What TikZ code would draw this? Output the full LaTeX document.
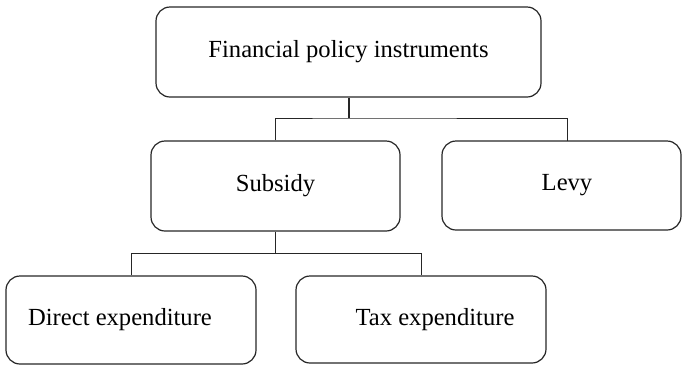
\documentclass[tikz,border=0pt]{standalone}
\usepackage{fontspec}
\setmainfont{Liberation Serif}
\usepackage{tikz}
\tikzstyle{instbox} = [draw=black!85, line width=0.6pt, rectangle, rounded corners=7pt, inner sep=0pt, font=\fontsize{12.3}{14}\selectfont]
\tikzstyle{link} = [draw=black!85, line width=0.5pt]

\begin{document}
\begin{tikzpicture}[x=0.5pt, y=-0.5pt]
	\useasboundingbox (0,0) rectangle (683,365);
	% livello 1
	\node [instbox, minimum width=192.5pt, minimum height=45pt] (fin) at (348.5,52) {Financial policy instruments};
	% livello 2
	\node [instbox, minimum width=124.5pt, minimum height=45pt] (sub) at (275.5,186) {Subsidy};
	\node [instbox, minimum width=119.5pt, minimum height=44.5pt] (levy) at (561.5,185.5) {\hspace*{5.5pt}Levy};
	% livello 3
	\node [instbox, minimum width=125pt, minimum height=44pt] (direct) at (131,320) {Direct expenditure\hspace*{11pt}};
	\node [instbox, minimum width=125pt, minimum height=43.5pt] (tax) at (421,319.5) {\hspace*{14pt}Tax expenditure};
	% connettori
	\coordinate (j1) at (348.5,118);
	\coordinate (levytop) at (567,141);
	\coordinate (j2) at (275.5,253);
	\draw [link, line width=1pt] (fin.south) -- (j1);
	\draw [link] (sub.north) |- (j1) -| (levytop);
	\draw [link] (sub.south) -- (j2);
	\draw [link] (direct.north) |- (j2) -| (tax.north);
\end{tikzpicture}
\end{document}
